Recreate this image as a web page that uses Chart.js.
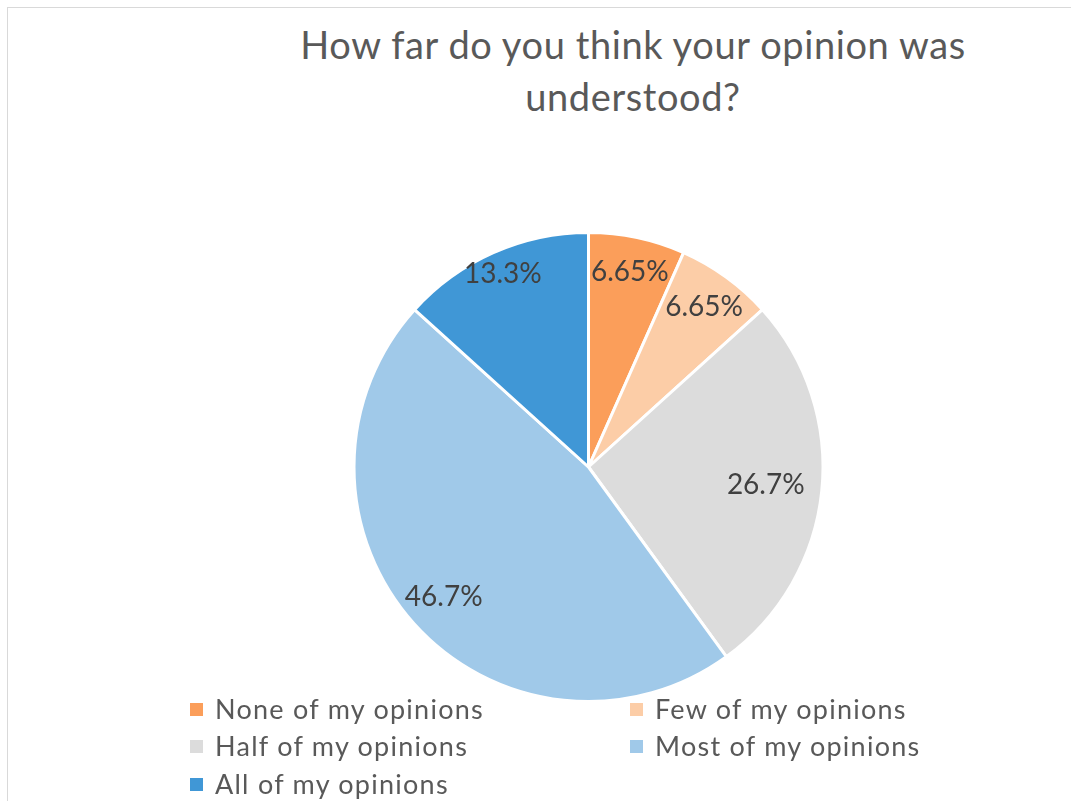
<!DOCTYPE html>
<html>
<head>
<meta charset="utf-8">
<script src="https://cdn.jsdelivr.net/npm/chart.js@4.4.0/dist/chart.umd.min.js"></script>
<style>
  html, body { margin: 0; padding: 0; background: #fff; }
  #wrap { position: relative; width: 1071px; height: 801px; overflow: hidden; font-family: Lato, "Open Sans", sans-serif; }
  #frame { position: absolute; left: 7px; top: 7px; width: 1200px; height: 900px; border: 1px solid #d9d9d9; border-width: 1px 0 0 1px; }
  #title { position: absolute; left: 183px; width: 900px; top: 18px; text-align: center; font-size: 38px; letter-spacing: 0.6px; line-height: 52px; color: #595959; }
  #chart { position: absolute; left: 0; top: 0; }
  .legend { position: absolute; font-size: 27px; letter-spacing: 1.25px; color: #595959; white-space: nowrap; }
  .legend span.box { display: inline-block; width: 13px; height: 13px; margin-right: 12px; vertical-align: 3px; }
</style>
</head>
<body>
<div id="wrap">
  <div id="frame"></div>
  <div id="title">How far do you think your opinion was<br>understood?</div>
  <canvas id="chart" width="1071" height="801"></canvas>
  <div id="legend"></div>
</div>
<script>
const categories = ["None of my opinions", "Few of my opinions", "Half of my opinions", "Most of my opinions", "All of my opinions"];
const percentages = [6.65, 6.65, 26.7, 46.7, 13.3];
const sliceColors = ["#fb9e5a", "#fccda7", "#dcdcdc", "#a0c9e9", "#4097d6"];

// how far out (fraction of radius) each label sits, like Excel's best fit
const labelRadius = [0.85, 0.84, 0.76, 0.83, 0.9];

const pieLabels = {
  id: "pieLabels",
  afterDatasetsDraw(chart) {
    const ctx = chart.ctx;
    const meta = chart.getDatasetMeta(0);
    ctx.save();
    ctx.font = "28px Lato, 'Open Sans', sans-serif";
    ctx.fillStyle = "#404040";
    ctx.textAlign = "center";
    ctx.textBaseline = "middle";
    meta.data.forEach((arc, i) => {
      const mid = (arc.startAngle + arc.endAngle) / 2;
      const r = arc.outerRadius * labelRadius[i];
      const x = arc.x + Math.cos(mid) * r;
      const y = arc.y + Math.sin(mid) * r;
      ctx.fillText(percentages[i] + "%", x, y);
    });
    ctx.restore();
  }
};

const chart = new Chart(document.getElementById("chart"), {
  type: "pie",
  data: {
    labels: categories,
    datasets: [{
      data: percentages,
      backgroundColor: sliceColors,
      borderColor: "#ffffff",
      borderWidth: 3,
      hoverOffset: 0
    }]
  },
  options: {
    responsive: false,
    animation: false,
    layout: { padding: { left: 352, right: 246, top: 231, bottom: 98 } },
    plugins: {
      legend: { display: false },
      tooltip: { enabled: false },
      title: { display: false }
    }
  },
  plugins: [pieLabels]
});

// two-column legend under the pie, like the Excel original
const legendPos = [[190, 692], [630, 692], [190, 729], [630, 729], [190, 767]];
const legendEl = document.getElementById("legend");
categories.forEach((name, i) => {
  const d = document.createElement("div");
  d.className = "legend";
  d.style.left = legendPos[i][0] + "px";
  d.style.top = legendPos[i][1] + "px";
  d.innerHTML = '<span class="box" style="background:' + sliceColors[i] + '"></span>' + name;
  legendEl.appendChild(d);
});
</script>
</body>
</html>
